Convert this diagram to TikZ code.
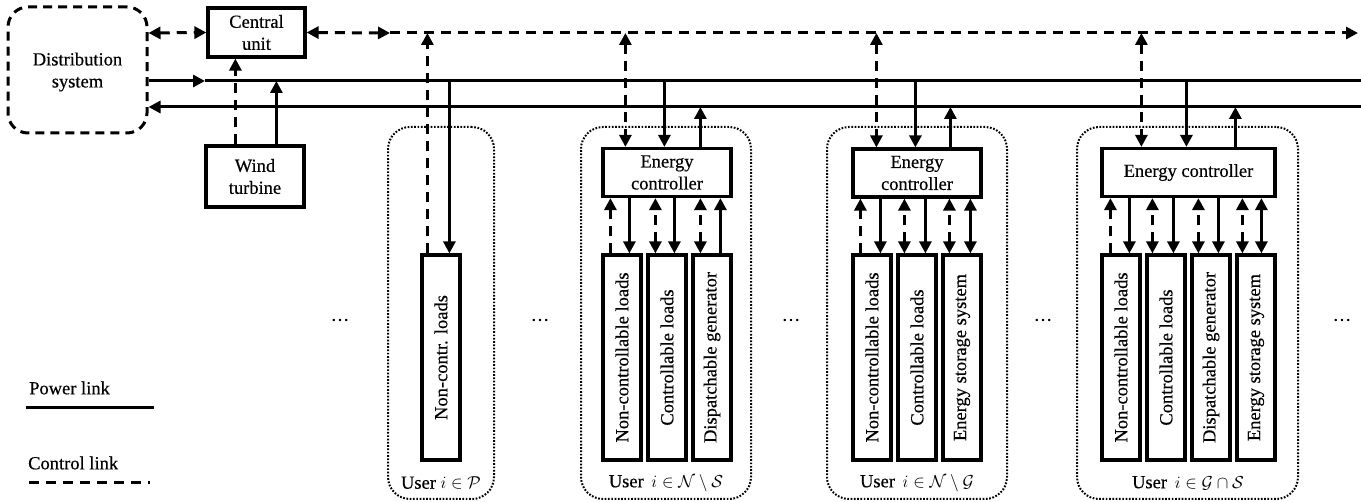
\documentclass[tikz,border=0pt]{standalone}
\usepackage{fontspec}
\setmainfont{Liberation Serif}[RawFeature={embolden=0.4}]
\usepackage{graphicx}
\usetikzlibrary{arrows.meta}
\begin{document}
\begin{tikzpicture}[x=1pt,y=-1pt,
  every node/.style={font=\fontsize{18.5}{22}\selectfont},
  pw/.style={line width=3pt},
  ct/.style={line width=3pt, dash pattern=on 10pt off 7pt},
  box/.style={draw, line width=3.2pt, inner sep=0pt, align=center},
  dev/.style={box, minimum width=38pt, minimum height=205pt},
  ecbox/.style={box, minimum height=48pt},
  grp/.style={draw, line width=2pt, dash pattern=on 1.7pt off 1.6pt, rounded corners=22pt, minimum height=372pt, inner sep=0pt},
  plain/.style={inner sep=0pt},
  >={Triangle[length=12pt,width=12pt]}]
\useasboundingbox (0,0) rectangle (1361,502);

% bus reference heights
\coordinate (cb) at (0,33);
\coordinate (pa) at (0,81);
\coordinate (pb) at (0,107);
\coordinate (cmid) at (390,33);
\coordinate (cend) at (1358,33);
\coordinate (pmid) at (205,81);
\coordinate (paend) at (1361,81);
\coordinate (pbend) at (1361,107);

% grid side
\node[box, line width=3pt, dash pattern=on 9pt off 6pt, rounded corners=20pt,
      minimum width=139pt, minimum height=126pt] (ds) at (77.5,70) {};
\node[plain, align=center] (dstext) at (77.5,72) {Distribution\\system};
\node[box, minimum width=97pt, minimum height=49pt] (cu) at (256.5,32.5) {Central\\unit};
\node[box, minimum width=98pt, minimum height=61pt] (wt) at (255,176.5) {Wind\\turbine};

% control bus
\draw[ct,<->] (ds.east |- cb) -- (cu.west);
\draw[ct,<->] (cu.east) -- (cmid);
\draw[ct,->] (cmid) -- (cend);
% power buses
\draw[pw,->] (ds.east |- pa) -- (pmid);
\draw[pw] (pmid) -- (paend);
\draw[pw,->] (pbend) -- (ds.east |- pb);
% wind turbine links
\draw[ct,->] ([xshift=31pt]wt.north west) -- ([xshift=31pt]wt.north west |- cu.south);
\draw[pw,->] ([xshift=72pt]wt.north west) -- ([xshift=72pt]wt.north west |- pa);

% ---- user i in P ----
\node[grp, minimum width=106pt] (gP) at (441,313) {};
\node[dev] (nP) at (441,357.5) {\rotatebox{90}{Non-contr. loads}};
\node[plain] (lP) at (441,483) {User $i\in\mathcal{P}$};
\draw[ct,->] ([xshift=7pt]nP.north west) -- ([xshift=7pt]nP.north west |- cb);
\draw[pw,->] ([xshift=29pt]nP.north west |- pa) -- ([xshift=29pt]nP.north west);

% ---- user i in N \ S ----
\node[grp, minimum width=170pt] (g1) at (666,313) {};
\node[ecbox, minimum width=128pt] (ec1) at (667,172.5) {Energy\\controller};
\node[dev] (d11) at (622,357.5) {\rotatebox{90}{Non-controllable loads}};
\node[dev] (d12) at (667,357.5) {\rotatebox{90}{Controllable loads}};
\node[dev] (d13) at (712,357.5) {\rotatebox{90}{Dispatchable generator}};
\node[plain] (l1) at (666,483) {User \,$i\in\mathcal{N}\setminus\mathcal{S}$};
\draw[ct,<->] ([xshift=24pt]ec1.north west |- cb) -- ([xshift=24pt]ec1.north west);
\draw[pw,->] ([xshift=63pt]ec1.north west |- pa) -- ([xshift=63pt]ec1.north west);
\draw[pw,->] ([xshift=99pt]ec1.north west) -- ([xshift=99pt]ec1.north west |- pb);
\draw[ct,->] ([xshift=9pt]d11.north west) -- ([xshift=9pt]d11.north west |- ec1.south);
\draw[pw,->] ([xshift=28pt]d11.north west |- ec1.south) -- ([xshift=28pt]d11.north west);
\draw[ct,<->] ([xshift=9pt]d12.north west) -- ([xshift=9pt]d12.north west |- ec1.south);
\draw[pw,->] ([xshift=28pt]d12.north west |- ec1.south) -- ([xshift=28pt]d12.north west);
\draw[ct,<->] ([xshift=9pt]d13.north west) -- ([xshift=9pt]d13.north west |- ec1.south);
\draw[pw,->] ([xshift=29pt]d13.north west) -- ([xshift=29pt]d13.north west |- ec1.south);

% ---- user i in N \ G ----
\node[grp, minimum width=180pt] (g2) at (917,313) {};
\node[ecbox, minimum width=128pt] (ec2) at (917,173) {Energy\\controller};
\node[dev] (d21) at (872,357.5) {\rotatebox{90}{Non-controllable loads}};
\node[dev] (d22) at (917,357.5) {\rotatebox{90}{Controllable loads}};
\node[dev] (d23) at (962,357.5) {\rotatebox{90}{Energy storage system}};
\node[plain] (l2) at (917,483) {User \,$i\in\mathcal{N}\setminus\mathcal{G}$};
\draw[ct,<->] ([xshift=25pt]ec2.north west |- cb) -- ([xshift=25pt]ec2.north west);
\draw[pw,->] ([xshift=64pt]ec2.north west |- pa) -- ([xshift=64pt]ec2.north west);
\draw[pw,->] ([xshift=99pt]ec2.north west) -- ([xshift=99pt]ec2.north west |- pb);
\draw[ct,->] ([xshift=9pt]d21.north west) -- ([xshift=9pt]d21.north west |- ec2.south);
\draw[pw,->] ([xshift=29pt]d21.north west |- ec2.south) -- ([xshift=29pt]d21.north west);
\draw[ct,<->] ([xshift=8pt]d22.north west) -- ([xshift=8pt]d22.north west |- ec2.south);
\draw[pw,->] ([xshift=29pt]d22.north west |- ec2.south) -- ([xshift=29pt]d22.north west);
\draw[ct,<->] ([xshift=8pt]d23.north west) -- ([xshift=8pt]d23.north west |- ec2.south);
\draw[pw,<->] ([xshift=29pt]d23.north west) -- ([xshift=29pt]d23.north west |- ec2.south);

% ---- user i in G cap S ----
\node[grp, minimum width=221pt] (g3) at (1187.5,313) {};
\node[ecbox, minimum width=173pt] (ec3) at (1188.5,172.5) {Energy controller};
\node[dev] (d31) at (1121,357.5) {\rotatebox{90}{Non-controllable loads}};
\node[dev] (d32) at (1166,357.5) {\rotatebox{90}{Controllable loads}};
\node[dev] (d33) at (1211,357.5) {\rotatebox{90}{Dispatchable generator}};
\node[dev] (d34) at (1256,357.5) {\rotatebox{90}{Energy storage system}};
\node[plain] (l3) at (1188,483) {User \,$i\in\mathcal{G}\cap\mathcal{S}$};
\draw[ct,<->] ([xshift=41pt]ec3.north west |- cb) -- ([xshift=41pt]ec3.north west);
\draw[pw,->] ([xshift=86pt]ec3.north west |- pa) -- ([xshift=86pt]ec3.north west);
\draw[pw,->] ([xshift=135pt]ec3.north west) -- ([xshift=135pt]ec3.north west |- pb);
\draw[ct,->] ([xshift=10pt]d31.north west) -- ([xshift=10pt]d31.north west |- ec3.south);
\draw[pw,->] ([xshift=29pt]d31.north west |- ec3.south) -- ([xshift=29pt]d31.north west);
\draw[ct,<->] ([xshift=7pt]d32.north west) -- ([xshift=7pt]d32.north west |- ec3.south);
\draw[pw,->] ([xshift=28pt]d32.north west |- ec3.south) -- ([xshift=28pt]d32.north west);
\draw[ct,<->] ([xshift=8pt]d33.north west) -- ([xshift=8pt]d33.north west |- ec3.south);
\draw[pw,->] ([xshift=28pt]d33.north west |- ec3.south) -- ([xshift=28pt]d33.north west);
\draw[ct,<->] ([xshift=7pt]d34.north west) -- ([xshift=7pt]d34.north west |- ec3.south);
\draw[pw,<->] ([xshift=26pt]d34.north west) -- ([xshift=26pt]d34.north west |- ec3.south);

% ellipses between user groups
\node[plain] (e1) at (340,320) {\ldots};
\node[plain] (e2) at (540,320) {\ldots};
\node[plain] (e3) at (791,320) {\ldots};
\node[plain] (e4) at (1043,320) {\ldots};
\node[plain] (e5) at (1342,320) {\ldots};

% legend
\node[plain, anchor=west] (lgp) at (29,388) {Power link};
\coordinate (lgpa) at (26,408);
\coordinate (lgpb) at (154,408);
\draw[pw] (lgpa) -- (lgpb);
\node[plain, anchor=west] (lgc) at (28,463) {Control link};
\coordinate (lgca) at (29,483);
\coordinate (lgcb) at (150,483);
\draw[ct] (lgca) -- (lgcb);
\end{tikzpicture}
\end{document}
